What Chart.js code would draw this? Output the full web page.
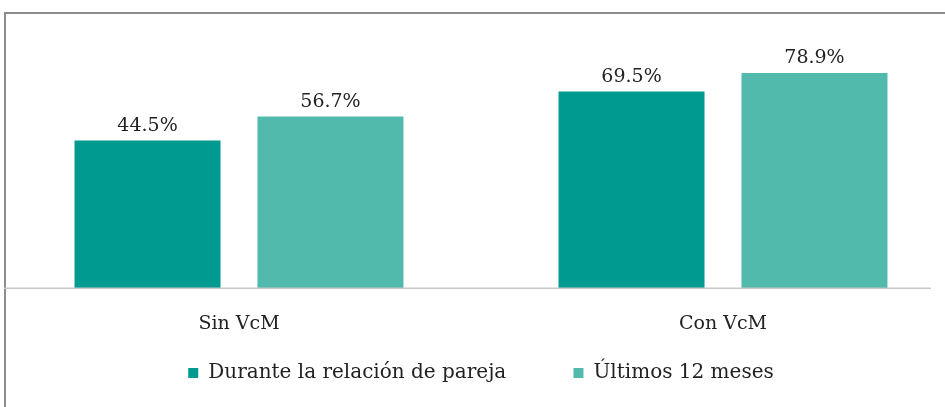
<!DOCTYPE html>
<html>
<head>
<meta charset="utf-8">
<script src="https://cdn.jsdelivr.net/npm/chart.js@4/dist/chart.umd.min.js"></script>
<style>
  html, body { margin: 0; padding: 0; background: #fff; overflow: hidden; }
  body { width: 945px; height: 407px; position: relative; }
  #frame { position: absolute; left: 4px; top: 12px; width: 1000px; height: 500px; border: 2px solid #8c8c8c; }
  #wrap { position: absolute; left: -3px; top: 0; width: 968px; height: 407px; }
</style>
</head>
<body>
<div id="frame"></div>
<div id="wrap"><canvas id="chart"></canvas></div>
<script>
// datos
const categorias = ["Sin VcM", "Con VcM"];
const duranteRelacion = [44.5, 69.5];
const ultimos12Meses = [56.7, 78.9];
const nombresSeries = ["Durante la relación de pareja", "Últimos 12 meses"];

const ejeMin = -31;
const ejeMax = 106;
const fuente = "'DejaVu Serif', 'Liberation Serif', serif";
const colores = ["#009a90", "#52b9ad"];

// etiquetas de porcentaje encima de cada barra
const etiquetas = {
  id: "etiquetas",
  afterDatasetsDraw(chart) {
    const ctx = chart.ctx;
    ctx.save();
    ctx.font = "19px " + fuente;
    ctx.fillStyle = "#222";
    ctx.textAlign = "center";
    ctx.textBaseline = "bottom";
    chart.data.datasets.forEach((ds, i) => {
      chart.getDatasetMeta(i).data.forEach((bar, j) => {
        ctx.fillText(ds.data[j].toFixed(1) + "%", bar.x, bar.y - 5);
      });
    });
    ctx.restore();
  }
};

// línea del eje horizontal
const lineaEje = {
  id: "lineaEje",
  afterDatasetsDraw(chart) {
    const ctx = chart.ctx;
    const y = chart.scales.y.getPixelForValue(ejeMin);
    ctx.save();
    ctx.strokeStyle = "#c8c8c8";
    ctx.lineWidth = 1.5;
    ctx.beginPath();
    ctx.moveTo(chart.chartArea.left + 7, y);
    ctx.lineTo(chart.chartArea.right - 34, y);
    ctx.stroke();
    ctx.restore();
  }
};

new Chart(document.getElementById("chart").getContext("2d"), {
  type: "bar",
  data: {
    labels: categorias,
    datasets: [
      { label: nombresSeries[0], data: duranteRelacion, backgroundColor: colores[0], base: ejeMin },
      { label: nombresSeries[1], data: ultimos12Meses, backgroundColor: colores[1], base: ejeMin }
    ]
  },
  options: {
    responsive: true,
    maintainAspectRatio: false,
    animation: false,
    categoryPercentage: 0.756,
    barPercentage: 0.798,
    layout: { padding: { top: 20, bottom: 14, left: 0, right: 0 } },
    plugins: {
      tooltip: { enabled: false },
      legend: {
        position: "bottom",
        labels: {
          boxWidth: 10,
          boxHeight: 10,
          padding: 10,
          color: "#222",
          font: { family: fuente, size: 20 },
          // espacios extra para separar las dos entradas
          generateLabels: chart => nombresSeries.map((n, i) => ({
            text: i === 0 ? n + " ".repeat(9) : n,
            fillStyle: colores[i],
            strokeStyle: colores[i],
            lineWidth: 0,
            fontColor: "#222",
            datasetIndex: i
          }))
        }
      }
    },
    scales: {
      x: {
        grid: { display: false },
        border: { display: false },
        ticks: { color: "#222", padding: 16, font: { family: fuente, size: 19 } },
        afterFit: scale => { scale.height += 2; }
      },
      y: {
        min: ejeMin,
        max: ejeMax,
        display: false
      }
    }
  },
  plugins: [etiquetas, lineaEje]
});
</script>
</body>
</html>
